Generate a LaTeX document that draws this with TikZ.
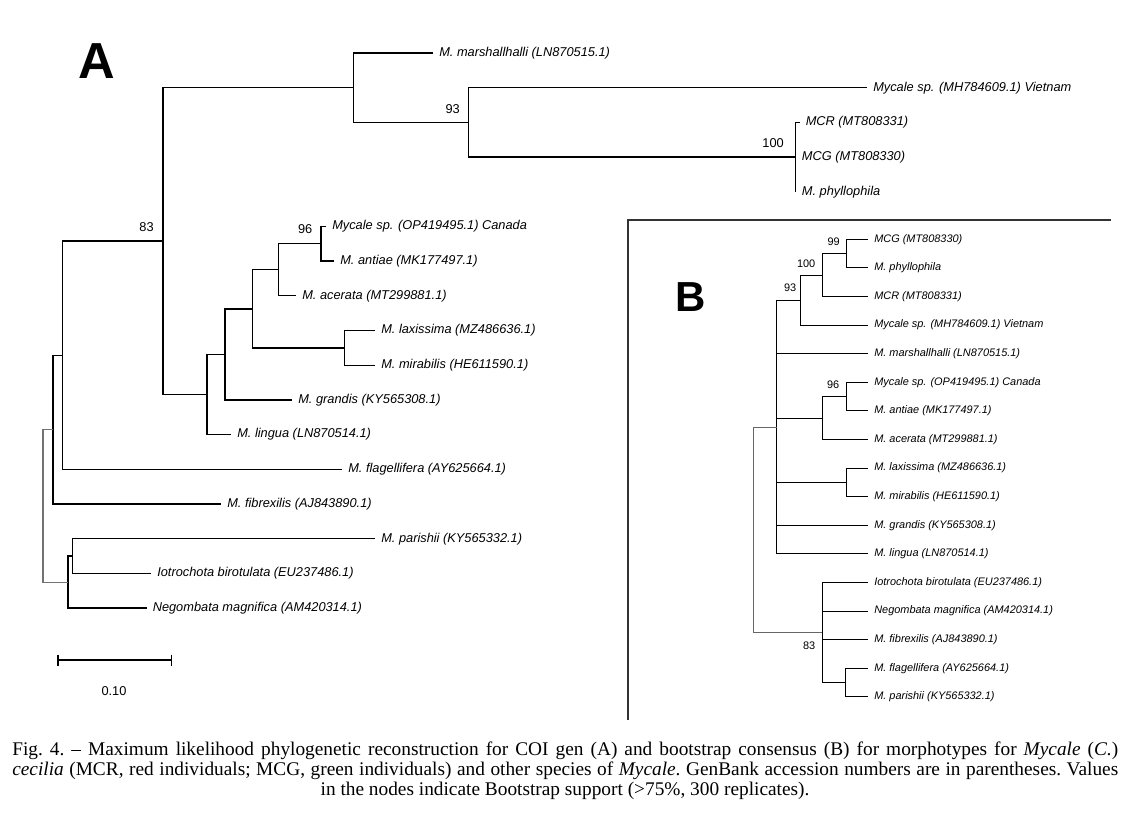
\documentclass[tikz,border=0pt]{standalone}
\usepackage{fontspec}
\setmainfont{Liberation Serif}
\setsansfont{Liberation Sans}
\tikzset{
  branch/.style={line width=1pt},
  branch B/.style={line width=0.75pt},
  root branch/.style={line width=0.9pt, black!55},
  frame/.style={line width=0.8pt, black!80},
  leaf A/.style={anchor=west, inner xsep=4.5pt, inner ysep=0pt,
    font=\sffamily\itshape\fontsize{9.6}{11}\selectfont},
  leaf B/.style={anchor=west, inner xsep=4.5pt, inner ysep=0pt,
    font=\sffamily\itshape\fontsize{8.2}{10}\selectfont},
  support A/.style={anchor=east, inner sep=0pt,
    font=\sffamily\fontsize{9.6}{11}\selectfont},
  support B/.style={anchor=east, inner sep=0pt,
    font=\sffamily\fontsize{8.2}{10}\selectfont},
  panel letter/.style={inner sep=0pt,
    font=\sffamily\bfseries\fontsize{38}{38}\selectfont},
  caption line/.style={inner sep=0pt,
    font=\rmfamily\fontsize{14.5}{16}\selectfont\frenchspacing},
}

\begin{document}
\begin{tikzpicture}[x=0.75pt, y=-0.75pt]
  \fill[white] (0,0) rectangle (1130,819);
  \useasboundingbox (0,0) rectangle (1130,819);

  % tree A
  \node[panel letter] (A) at (96.7,61) {A};
  \node[leaf A] (marshA) at (433,53.0) {M. marshallhalli (LN870515.1)};
  \node[leaf A] (vietA) at (867,87.7) {Mycale sp. (MH784609.1) Vietnam};
  \node[leaf A] (mcrA) at (799.5,122.4) {MCR (MT808331)};
  \node[leaf A] (mcgA) at (795.7,157.1) {MCG (MT808330)};
  \node[leaf A] (phylA) at (795.7,191.8) {M. phyllophila};
  \node[leaf A] (canA) at (326,226.5) {Mycale sp. (OP419495.1) Canada};
  \node[leaf A] (antA) at (334,261.1) {M. antiae (MK177497.1)};
  \node[leaf A] (aceA) at (296,295.8) {M. acerata (MT299881.1)};
  \node[leaf A] (laxA) at (375,330.5) {M. laxissima (MZ486636.1)};
  \node[leaf A] (mirA) at (375,365.2) {M. mirabilis (HE611590.1)};
  \node[leaf A] (graA) at (292,399.9) {M. grandis (KY565308.1)};
  \node[leaf A] (linA) at (231,434.6) {M. lingua (LN870514.1)};
  \node[leaf A] (flaA) at (342,469.3) {M. flagellifera (AY625664.1)};
  \node[leaf A] (fibA) at (221,504.0) {M. fibrexilis (AJ843890.1)};
  \node[leaf A] (parA) at (375,538.7) {M. parishii (KY565332.1)};
  \node[leaf A] (ioA) at (151,573.4) {Iotrochota birotulata (EU237486.1)};
  \node[leaf A] (negA) at (146.5,608.0) {Negombata magnifica (AM420314.1)};

  \coordinate (nMC) at (795.7,157.1);
  \coordinate (n93) at (468.3,122.4);
  \coordinate (nTop) at (353.5,87.7);
  \coordinate (n96) at (321,243.8);
  \coordinate (nAc) at (278.6,269.8);
  \coordinate (nLM) at (344.6,347.9);
  \coordinate (nAL) at (252.5,308.9);
  \coordinate (nGr) at (225,354.4);
  \coordinate (nLi) at (207,394.5);
  \coordinate (nBig) at (163,241.1);
  \coordinate (n83) at (62.5,355.2);
  \coordinate (nFi) at (53,429.6);
  \coordinate (nPI) at (72.5,556.1);
  \coordinate (nNe) at (68,582.1);
  \coordinate (rootA) at (43,505.9);

  \draw[branch] (nMC) |- (mcrA.west) (nMC) |- (mcgA.west) (nMC) |- (phylA.west);
  \draw[branch] (n93) |- (vietA.west) (n93) |- (nMC);
  \draw[branch] (nTop) |- (marshA.west) (nTop) |- (n93);
  \draw[branch] (n96) |- (canA.west) (n96) |- (antA.west);
  \draw[branch] (nAc) |- (n96) (nAc) |- (aceA.west);
  \draw[branch] (nLM) |- (laxA.west) (nLM) |- (mirA.west);
  \draw[branch] (nAL) |- (nAc) (nAL) |- (nLM);
  \draw[branch] (nGr) |- (nAL) (nGr) |- (graA.west);
  \draw[branch] (nLi) |- (nGr) (nLi) |- (linA.west);
  \draw[branch] (nBig) |- (nTop) (nBig) |- (nLi);
  \draw[branch] (n83) |- (nBig) (n83) |- (flaA.west);
  \draw[branch] (nFi) |- (n83) (nFi) |- (fibA.west);
  \draw[branch] (nPI) |- (parA.west) (nPI) |- (ioA.west);
  \draw[branch] (nNe) |- (nPI) (nNe) |- (negA.west);
  \draw[root branch] (rootA) |- (nFi) (rootA) |- (nNe);

  \node[support A] (s100A) at (784,143) {100};
  \node[support A] (s93A) at (460,109) {93};
  \node[support A] (s96A) at (312.5,229) {96};
  \node[support A] (s83A) at (154,227) {83};

  \coordinate (barL) at (58,660);
  \coordinate (barR) at (171.5,660);
  \draw[branch] (barL) -- (barR);
  \draw[branch] (barL) ++(0,-5.5) -- ++(0,11);
  \draw[branch] (barR) ++(0,-5.5) -- ++(0,11);
  \node[support A, anchor=center] (barText) at (114,691) {0.10};

  % tree B
  \draw[frame] (628,720) -- (628,220) -- (1111,220);
  \node[panel letter, font=\sffamily\bfseries\fontsize{31.5}{31.5}\selectfont] (B) at (691,296.7) {B};
  \node[leaf B] (mcgB) at (868,239.3) {MCG (MT808330)};
  \node[leaf B] (phylB) at (868,267.9) {M. phyllophila};
  \node[leaf B] (mcrB) at (868,296.5) {MCR (MT808331)};
  \node[leaf B] (vietB) at (868,325.1) {Mycale sp. (MH784609.1) Vietnam};
  \node[leaf B] (marshB) at (868,353.7) {M. marshallhalli (LN870515.1)};
  \node[leaf B] (canB) at (868,382.3) {Mycale sp. (OP419495.1) Canada};
  \node[leaf B] (antB) at (868,410.8) {M. antiae (MK177497.1)};
  \node[leaf B] (aceB) at (868,439.4) {M. acerata (MT299881.1)};
  \node[leaf B] (laxB) at (868,468.0) {M. laxissima (MZ486636.1)};
  \node[leaf B] (mirB) at (868,496.6) {M. mirabilis (HE611590.1)};
  \node[leaf B] (graB) at (868,525.2) {M. grandis (KY565308.1)};
  \node[leaf B] (linB) at (868,553.8) {M. lingua (LN870514.1)};
  \node[leaf B] (ioB) at (868,582.4) {Iotrochota birotulata (EU237486.1)};
  \node[leaf B] (negB) at (868,611.0) {Negombata magnifica (AM420314.1)};
  \node[leaf B] (fibB) at (868,639.6) {M. fibrexilis (AJ843890.1)};
  \node[leaf B] (flaB) at (868,668.2) {M. flagellifera (AY625664.1)};
  \node[leaf B] (parB) at (868,696.7) {M. parishii (KY565332.1)};

  \coordinate (b99) at (846.7,253.6);
  \coordinate (b100) at (822.3,275.1);
  \coordinate (b93) at (800,300.1);
  \coordinate (bPoly) at (776.7,427.0);
  \coordinate (b96) at (846.7,396.6);
  \coordinate (b96a) at (822.3,418.0);
  \coordinate (bLM) at (846,482.3);
  \coordinate (bFP) at (845.7,682.5);
  \coordinate (b83) at (822.3,632.5);
  \coordinate (rootB) at (753.3,529.7);

  \draw[branch B] (b99) |- (mcgB.west) (b99) |- (phylB.west);
  \draw[branch B] (b100) |- (b99) (b100) |- (mcrB.west);
  \draw[branch B] (b93) |- (b100) (b93) |- (vietB.west);
  \draw[branch B] (b96) |- (canB.west) (b96) |- (antB.west);
  \draw[branch B] (b96a) |- (b96) (b96a) |- (aceB.west);
  \draw[branch B] (bLM) |- (laxB.west) (bLM) |- (mirB.west);
  \draw[branch B] (bPoly) |- (b93) (bPoly) |- (marshB.west) (bPoly) |- (b96a)
    (bPoly) |- (bLM) (bPoly) |- (graB.west) (bPoly) |- (linB.west);
  \draw[branch B] (bFP) |- (flaB.west) (bFP) |- (parB.west);
  \draw[branch B] (b83) |- (ioB.west) (b83) |- (negB.west) (b83) |- (fibB.west)
    (b83) |- (bFP);
  \draw[branch B, black!60] (rootB) |- (bPoly) (rootB) |- (b83);

  \node[support B] (s99B) at (840,242) {99};
  \node[support B] (s100B) at (815.5,264) {100};
  \node[support B] (s93B) at (796.5,288) {93};
  \node[support B] (s96B) at (839.5,385) {96};
  \node[support B] (s83B) at (815.5,646) {83};

  % caption
  \node[caption line, anchor=base west] (cap1) at (12,755) {\makebox[829.5pt][s]{Fig. 4. -- Maximum likelihood phylogenetic reconstruction for COI gen (A) and bootstrap consensus (B) for morphotypes for \textit{Mycale} (\textit{C.})}};
  \node[caption line, anchor=base west] (cap2) at (12,775.5) {\makebox[829.5pt][s]{\textit{cecilia} (MCR, red individuals; MCG, green individuals) and other species of \textit{Mycale}. GenBank accession numbers are in parentheses. Values}};
  \node[caption line, anchor=base] (cap3) at (565,795.5) {in the nodes indicate Bootstrap support (>75\%, 300 replicates).};
\end{tikzpicture}
\end{document}
